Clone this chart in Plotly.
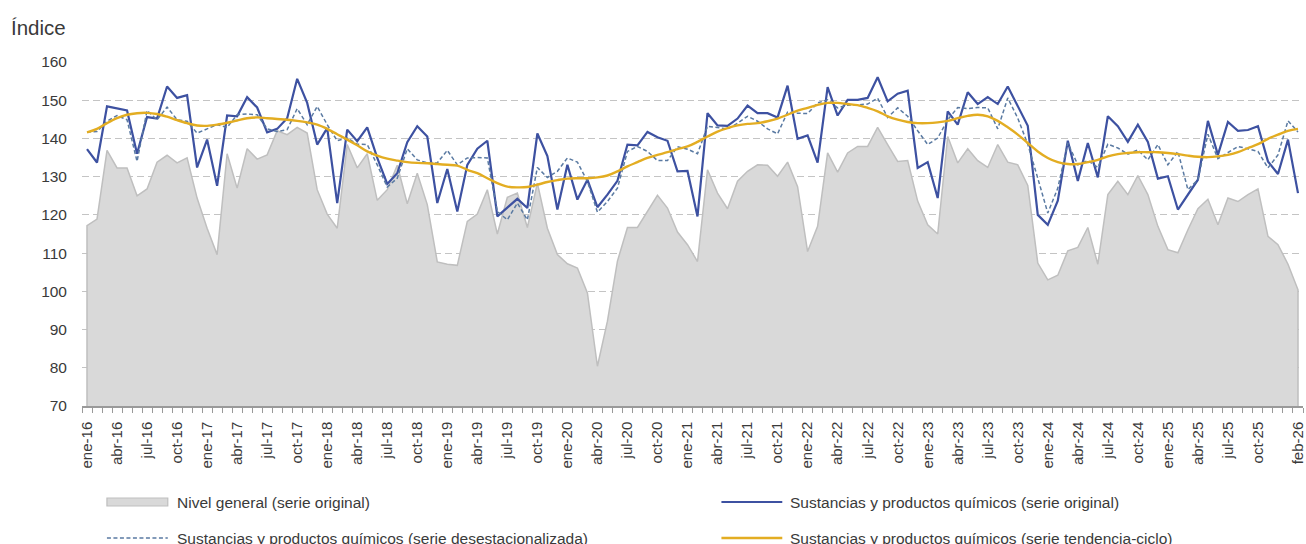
import plotly.graph_objects as go

# ---------------- data ----------------
MESES = ["ene", "feb", "mar", "abr", "may", "jun", "jul", "ago", "sep", "oct", "nov", "dic"]
N_MESES = 122  # ene-16 .. feb-26
categorias = [f"{MESES[k % 12]}-{16 + k // 12:02d}" for k in range(N_MESES)]

nivel_general = [
    117.2, 118.9, 136.9, 132.3, 132.3, 125.0, 126.8, 133.8, 135.6, 133.6, 134.9, 124.4,
    116.5, 109.6, 136.0, 127.0, 137.3, 134.6, 135.7, 142.0, 141.0, 142.9, 141.4, 126.6,
    120.2, 116.5, 138.4, 132.3, 136.0, 123.8, 126.6, 133.0, 122.9, 130.9, 122.7, 107.7,
    107.1, 106.8, 118.3, 120.2, 126.6, 115.0, 124.6, 125.7, 116.7, 128.3, 116.5, 109.6,
    107.2, 106.1, 99.6, 80.4, 92.2, 107.9, 116.7, 116.7, 120.9, 125.1, 121.8, 115.5,
    112.2, 107.8, 131.8, 125.7, 121.6, 128.8, 131.4, 133.1, 133.0, 130.1, 133.8, 127.4,
    110.4, 117.0, 136.2, 131.2, 136.2, 137.9, 137.9, 142.9, 138.4, 134.0, 134.2, 123.6,
    117.4, 115.0, 140.5, 133.6, 137.3, 134.2, 132.4, 138.4, 133.8, 133.1, 127.7, 107.4,
    103.0, 104.2, 110.6, 111.5, 116.7, 107.1, 125.3, 128.8, 125.3, 130.3, 125.3, 117.0,
    110.9, 110.1, 116.1, 121.6, 124.1, 117.4, 124.4, 123.5, 125.3, 126.8, 114.4, 112.2,
    107.1, 100.4,
]

quimicos_original = [
    137.2, 133.7, 148.4, 147.9, 147.3, 136.0, 145.6, 145.2, 153.6, 150.6, 151.3, 132.4,
    139.7, 127.6, 146.0, 145.8, 150.8, 148.1, 141.6, 142.5, 145.3, 155.6, 149.3, 138.4,
    142.7, 123.1, 142.3, 139.3, 142.9, 134.9, 128.1, 130.9, 139.0, 143.2, 140.5, 123.1,
    132.0, 120.9, 133.1, 137.3, 139.4, 119.6, 121.8, 124.2, 121.8, 141.3, 135.4, 121.4,
    133.1, 124.0, 129.2, 122.0, 125.3, 128.9, 138.4, 138.2, 141.7, 140.3, 139.4, 131.4,
    131.5, 119.6, 146.6, 143.4, 143.3, 145.2, 148.6, 146.6, 146.6, 145.5, 153.8, 139.9,
    140.8, 133.7, 153.4, 146.0, 150.1, 150.1, 150.6, 156.0, 149.7, 151.7, 152.5, 132.3,
    133.8, 124.4, 147.1, 143.6, 152.1, 149.0, 150.8, 149.0, 153.6, 148.4, 143.3, 120.0,
    117.4, 123.7, 139.4, 128.9, 138.8, 129.8, 145.8, 143.2, 139.1, 143.6, 139.1, 129.5,
    130.1, 121.4, 125.4, 129.2, 144.6, 135.7, 144.3, 142.0, 142.2, 143.2, 134.0, 130.7,
    139.7, 125.7,
]

quimicos_desestacionalizada = [
    141.7, 141.8, 144.5, 146.0, 144.9, 134.0, 147.3, 144.9, 148.2, 144.9, 144.5, 141.4,
    142.5, 143.6, 142.9, 146.2, 146.4, 146.2, 142.5, 141.8, 142.3, 147.8, 143.6, 148.4,
    143.6, 139.4, 140.1, 138.5, 138.4, 133.1, 127.3, 129.6, 137.3, 134.4, 133.6, 133.6,
    136.9, 133.1, 134.9, 135.0, 134.9, 120.9, 118.7, 123.1, 118.7, 132.4, 129.8, 131.4,
    134.9, 133.8, 128.8, 120.7, 123.5, 127.0, 136.6, 137.9, 136.6, 134.2, 134.2, 137.8,
    137.2, 136.0, 143.2, 142.9, 142.5, 144.0, 145.8, 144.5, 142.5, 141.2, 146.9, 146.6,
    146.5, 149.3, 150.1, 148.0, 148.7, 148.8, 149.0, 150.5, 145.5, 148.0, 145.8, 142.0,
    138.4, 140.1, 144.9, 148.1, 147.8, 148.1, 148.0, 142.5, 150.6, 145.3, 138.5, 129.6,
    120.5, 127.0, 138.8, 133.1, 134.2, 132.4, 138.5, 137.5, 135.9, 137.0, 134.4, 138.4,
    133.1, 136.6, 126.6, 129.2, 141.1, 134.7, 136.4, 137.9, 137.3, 136.6, 132.3, 135.7,
    144.6, 141.7,
]

quimicos_tendencia = [
    141.6, 142.5, 144.0, 145.3, 146.2, 146.6, 146.7, 146.4, 145.7, 144.8, 144.0, 143.4,
    143.3, 143.6, 144.1, 144.7, 145.3, 145.5, 145.3, 145.1, 144.9, 144.6, 144.2, 143.6,
    142.5, 141.1, 139.7, 138.2, 136.6, 135.5, 134.7, 134.2, 133.8, 133.6, 133.5, 133.3,
    133.1, 132.9, 131.8, 130.9, 129.6, 128.3, 127.4, 127.2, 127.3, 127.9, 128.6, 129.1,
    129.5, 129.6, 129.6, 129.8, 130.3, 131.4, 132.7, 133.8, 134.9, 135.7, 136.4, 137.2,
    137.9, 139.1, 140.5, 141.8, 142.7, 143.4, 143.8, 144.0, 144.5, 145.2, 146.2, 147.3,
    148.0, 148.8, 149.3, 149.3, 149.0, 148.7, 148.0, 147.1, 145.8, 144.9, 144.3, 144.0,
    144.0, 144.2, 144.6, 145.3, 145.9, 146.2, 145.8, 144.6, 142.9, 141.0, 138.8, 136.6,
    134.9, 133.8, 133.3, 133.3, 133.8, 134.4, 135.3, 135.9, 136.2, 136.4, 136.4, 136.4,
    136.2, 135.9, 135.5, 135.2, 135.1, 135.3, 135.7, 136.4, 137.5, 138.5, 139.9, 141.0,
    142.0, 142.5,
]

# tick labels: every 3 months, plus the last month (ene-26 not shown in the original)
tick_idx = list(range(0, N_MESES - 2, 3)) + [N_MESES - 1]
tick_labels = [categorias[k] for k in tick_idx]

Y_MIN, Y_MAX = 70, 160
y_ticks = list(range(70, 161, 10))

nombres = [
    "Nivel general (serie original)",
    "Sustancias y productos químicos (serie original)",
    "Sustancias y productos químicos (serie desestacionalizada)",
    "Sustancias y productos químicos (serie tendencia-ciclo)",
]

# ---------------- styles ----------------
FONT = "Liberation Sans, Arial, Helvetica, sans-serif"
TXT = "#3a3a3a"
C_AREA_FILL = "#d9d9d9"
C_AREA_LINE = "#bfbfbf"
C_BLUE = "#3d51a1"
C_DASH = "#5a7aa2"
C_GOLD = "#e3ad22"

W, H = 1306, 544
# plot area in window pixels: x 82..1306, y 62..406
PLOT_L, PLOT_R, PLOT_T, PLOT_B = 82, 1306, 62, 406
ML, MT = PLOT_L, PLOT_T
MR, MB = W - PLOT_R, H - PLOT_B
PW, PH = PLOT_R - PLOT_L, PLOT_B - PLOT_T


def px_x(px):
    """window pixel x -> paper coordinate"""
    return (px - PLOT_L) / PW


def px_y(py):
    """window pixel y -> paper coordinate"""
    return (PLOT_B - py) / PH


x = list(range(N_MESES))

fig = go.Figure()

# gray area (closed down to the axis floor so the side edges are drawn)
fig.add_trace(go.Scatter(
    x=[x[0]] + x + [x[-1]],
    y=[Y_MIN] + nivel_general + [Y_MIN],
    mode="lines",
    line=dict(color=C_AREA_LINE, width=1.5),
    fill="toself",
    fillcolor=C_AREA_FILL,
    name=nombres[0],
    showlegend=False,
    hoverinfo="skip",
))
fig.add_trace(go.Scatter(
    x=x, y=quimicos_original, mode="lines",
    line=dict(color=C_BLUE, width=2.2),
    name=nombres[1], showlegend=False,
))
fig.add_trace(go.Scatter(
    x=x, y=quimicos_desestacionalizada, mode="lines",
    line=dict(color=C_DASH, width=1.5, dash="4px,2.5px"),
    name=nombres[2], showlegend=False,
))
fig.add_trace(go.Scatter(
    x=x, y=quimicos_tendencia, mode="lines",
    line=dict(color=C_GOLD, width=2.4, shape="spline", smoothing=1.0),
    name=nombres[3], showlegend=False,
))

# ---------------- manual legend ----------------
legend_rows = [
    (px_x(107), px_x(168), px_x(175), px_y(502), nombres[0], "box"),
    (px_x(723), px_x(784), px_x(790), px_y(502), nombres[1], "blue"),
    (px_x(107), px_x(168), px_x(175), px_y(538), nombres[2], "dash"),
    (px_x(723), px_x(784), px_x(790), px_y(538), nombres[3], "gold"),
]
shapes = []
annotations = []
for x0, x1, xt, yc, label, kind in legend_rows:
    if kind == "box":
        shapes.append(dict(type="rect", xref="paper", yref="paper",
                           x0=x0, x1=x1, y0=yc - 4 / PH, y1=yc + 4 / PH,
                           fillcolor=C_AREA_FILL, line=dict(color=C_AREA_LINE, width=1.2)))
    else:
        style = {
            "blue": dict(color=C_BLUE, width=2.2),
            "dash": dict(color=C_DASH, width=1.5, dash="4px,2.5px"),
            "gold": dict(color=C_GOLD, width=2.4),
        }[kind]
        shapes.append(dict(type="line", xref="paper", yref="paper",
                           x0=x0, x1=x1, y0=yc, y1=yc, line=style))
    annotations.append(dict(text=label, xref="paper", yref="paper", x=xt, y=yc,
                            xanchor="left", yanchor="middle", showarrow=False,
                            font=dict(family=FONT, size=15.5, color=TXT)))

annotations.append(dict(text="Índice", xref="paper", yref="paper",
                        x=px_x(9), y=px_y(27), xanchor="left", yanchor="middle",
                        showarrow=False, font=dict(family=FONT, size=20.5, color=TXT)))

fig.update_layout(
    width=W, height=H,
    margin=dict(l=ML, r=MR, t=MT, b=MB, pad=0),
    paper_bgcolor="white", plot_bgcolor="white",
    font=dict(family=FONT, size=15, color=TXT),
    showlegend=False,
    shapes=shapes,
    annotations=annotations,
    xaxis=dict(
        range=[-0.5, N_MESES - 0.5],
        tickmode="array", tickvals=tick_idx, ticktext=tick_labels,
        tickangle=-90,
        ticks="outside", ticklen=5, tickcolor="rgba(0,0,0,0)",
        ticklabelstandoff=3,
        ticklabeloverflow="allow",
        tickfont=dict(family=FONT, size=15, color=TXT),
        showgrid=False, zeroline=False,
        showline=True, linecolor="#9a9a9a", linewidth=1.5,
        minor=dict(tick0=-0.5, dtick=1, ticks="outside", ticklen=5,
                   tickcolor="#9a9a9a", tickwidth=1, showgrid=False),
        fixedrange=True,
    ),
    yaxis=dict(
        range=[Y_MIN, Y_MAX],
        tickmode="array", tickvals=y_ticks,
        ticks="", ticklabelstandoff=14,
        tickfont=dict(family=FONT, size=15.5, color=TXT),
        showgrid=True, gridcolor="#c4c4c4", gridwidth=1.3, griddash="7px,4px",
        zeroline=False, showline=False,
        fixedrange=True,
    ),
)

# remove the browser's default 8px body margin so the 1306x544 figure fills the window
fig.write_html(
    "out.html",
    config={"displayModeBar": False},
    post_script="document.body.style.margin='0';"
                "document.documentElement.style.overflow='hidden';"
                "document.body.style.overflow='hidden';",
)
